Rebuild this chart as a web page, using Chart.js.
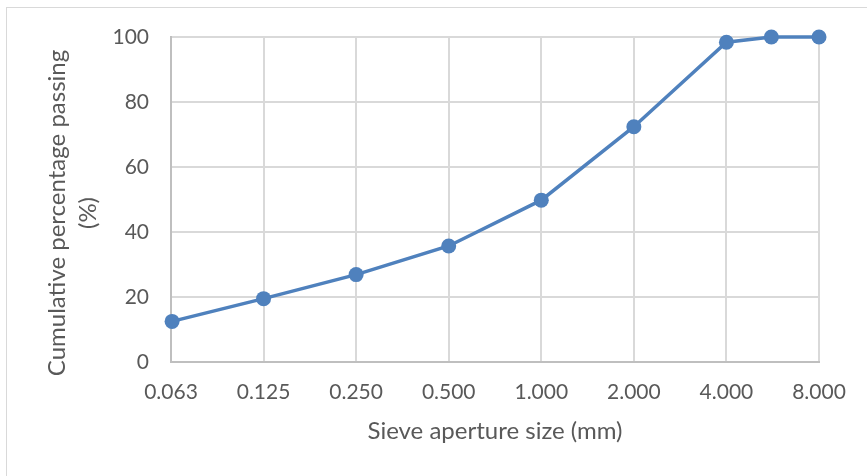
<!DOCTYPE html>
<html>
<head>
<meta charset="utf-8">
<script src="https://cdn.jsdelivr.net/npm/chart.js@4/dist/chart.umd.min.js"></script>
<style>
  html, body { margin: 0; padding: 0; background: #fff; overflow: hidden; }
  #wrap { position: relative; width: 867px; height: 476px; }
  #frame { position: absolute; left: 6px; top: 7px; width: 900px; height: 500px; border: 1px solid #d9d9d9; box-sizing: border-box; }
  canvas { position: absolute; left: 0; top: 0; }
</style>
</head>
<body>
<div id="wrap">
  <div id="frame"></div>
  <canvas id="c" width="867" height="476"></canvas>
</div>
<script>
// Sieve aperture sizes (mm) and cumulative percentage passing
const sieveSizes = [0.063, 0.125, 0.25, 0.5, 1, 2, 4, 5.6, 8];
const percentPassing = [12.5, 19.5, 26.9, 35.7, 49.8, 72.4, 98.4, 100, 100];

// X-axis (log base 2) tick sizes and their labels
const tickSizes = [0.0625, 0.125, 0.25, 0.5, 1, 2, 4, 8];
const tickLabels = ['0.063', '0.125', '0.250', '0.500', '1.000', '2.000', '4.000', '8.000'];

// Y-axis ticks
const yTicks = [0, 20, 40, 60, 80, 100];

const xTitle = 'Sieve aperture size (mm)';
const yTitle = ['Cumulative percentage passing', '(%)'];

const FONT = 'Lato';
const TEXT = '#595959';

const points = sieveSizes.map((s, i) => ({ x: Math.log2(s), y: percentPassing[i] }));
const tickPos = tickSizes.map(s => Math.log2(s));

const titlePlugin = {
  id: 'axisTitles',
  afterDraw(chart) {
    const ctx = chart.ctx;
    const area = chart.chartArea;
    ctx.save();
    ctx.fillStyle = TEXT;
    ctx.font = '24px ' + FONT;
    ctx.textAlign = 'center';
    ctx.textBaseline = 'middle';
    // x title
    ctx.fillText(xTitle, (area.left + area.right) / 2, 431);
    // y title (rotated)
    ctx.translate(57, 213);
    ctx.rotate(-Math.PI / 2);
    yTitle.forEach((t, i) => ctx.fillText(t, 0, i * 31));
    ctx.restore();
  }
};

new Chart(document.getElementById('c'), {
  type: 'scatter',
  data: {
    datasets: [{
      data: points,
      showLine: true,
      clip: false,
      borderColor: '#4f81bd',
      backgroundColor: '#4f81bd',
      borderWidth: 3.5,
      pointRadius: 7.5,
      pointHoverRadius: 7.5,
      pointBorderWidth: 0,
      tension: 0
    }]
  },
  options: {
    responsive: false,
    animation: false,
    events: [],
    layout: { padding: { left: 0, top: 37, right: 48, bottom: 0 } },
    plugins: { legend: { display: false }, tooltip: { enabled: false } },
    scales: {
      x: {
        type: 'linear',
        min: tickPos[0],
        max: tickPos[tickPos.length - 1],
        afterBuildTicks(scale) { scale.ticks = tickPos.map(v => ({ value: v })); },
        afterFit(scale) { scale.height = 114; },
        ticks: {
          autoSkip: false,
          maxRotation: 0,
          padding: 18,
          color: TEXT,
          font: { family: FONT, size: 21 },
          callback(value) {
            const i = tickPos.findIndex(p => Math.abs(p - value) < 1e-6);
            return i >= 0 ? tickLabels[i] : '';
          }
        },
        grid: { color: '#d9d9d9', lineWidth: 2, drawTicks: false },
        border: { color: '#bfbfbf', width: 2 }
      },
      y: {
        min: 0,
        max: 100,
        afterBuildTicks(scale) { scale.ticks = yTicks.map(v => ({ value: v })); },
        afterFit(scale) { scale.width = 171; },
        ticks: {
          padding: 22,
          color: TEXT,
          font: { family: FONT, size: 21 }
        },
        grid: { color: '#d9d9d9', lineWidth: 2, drawTicks: false },
        border: { color: '#bfbfbf', width: 2 }
      }
    }
  },
  plugins: [titlePlugin]
});
</script>
</body>
</html>
